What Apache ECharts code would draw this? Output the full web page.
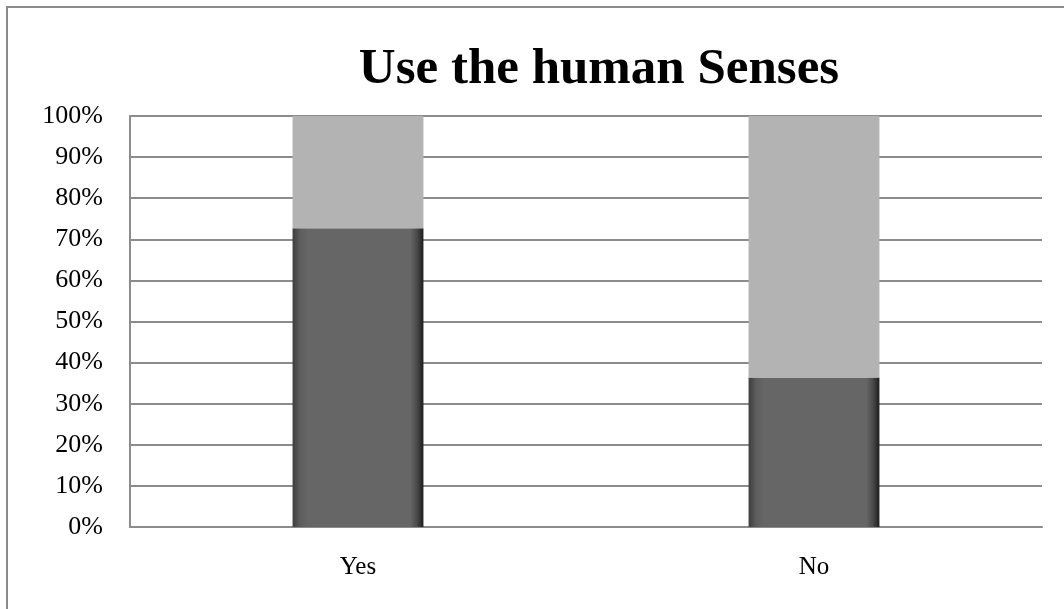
<!DOCTYPE html>
<html>
<head>
<meta charset="utf-8">
<script src="https://cdn.jsdelivr.net/npm/echarts@6/dist/echarts.min.js"></script>
<style>
  html, body { margin: 0; padding: 0; background: #fff; }
  #chart { width: 1064px; height: 609px; }
</style>
</head>
<body>
<div id="chart"></div>
<script>
// Share of answers per category (percent of respondents)
const categories = ['Yes', 'No'];
const usePercent = [72.7, 36.4];
const restPercent = [27.3, 63.6];
const yTicks = [0, 10, 20, 30, 40, 50, 60, 70, 80, 90, 100];

const serif = '"Liberation Serif", "DejaVu Serif", serif';

// Bevelled dark fill: shaded left edge, near-black right edge
const darkFill = new echarts.graphic.LinearGradient(0, 0, 1, 0, [
  { offset: 0, color: '#3e3e3e' },
  { offset: 0.06, color: '#5e5e5e' },
  { offset: 0.12, color: '#666666' },
  { offset: 0.9, color: '#666666' },
  { offset: 0.95, color: '#4a4a4a' },
  { offset: 1, color: '#1e1e1e' }
]);

const chart = echarts.init(document.getElementById('chart'), null, { renderer: 'canvas' });
chart.setOption({
  animation: false,
  backgroundColor: '#ffffff',
  title: {
    text: 'Use the human Senses',
    left: 594,
    textAlign: 'center',
    top: 39,
    textStyle: { fontFamily: serif, fontWeight: 'bold', fontSize: 51, color: '#000' }
  },
  graphic: [{
    type: 'rect',
    shape: { x: 7, y: 7, width: 1100, height: 700 },
    style: { fill: 'none', stroke: '#8a8a8a', lineWidth: 2 },
    silent: true
  }],
  grid: { left: 130, right: 22, top: 116, bottom: 82 },
  xAxis: {
    type: 'category',
    data: categories,
    axisLine: { lineStyle: { color: '#8c8c8c', width: 2 } },
    axisTick: { show: false },
    axisLabel: { fontFamily: serif, fontSize: 25, color: '#000', margin: 28 }
  },
  yAxis: {
    type: 'value',
    min: yTicks[0],
    max: yTicks[yTicks.length - 1],
    interval: 10,
    axisLine: { show: true, lineStyle: { color: '#8c8c8c', width: 2 } },
    axisTick: { show: false },
    splitLine: { lineStyle: { color: '#8c8c8c', width: 2 } },
    axisLabel: { fontFamily: serif, fontSize: 26, color: '#000', margin: 27, formatter: '{value}%' }
  },
  series: [
    {
      type: 'bar',
      stack: 'share',
      data: usePercent,
      barWidth: '28.7%',
      itemStyle: { color: darkFill }
    },
    {
      type: 'bar',
      stack: 'share',
      data: restPercent,
      barWidth: '28.7%',
      itemStyle: { color: '#b3b3b3' }
    }
  ]
});
</script>
</body>
</html>
